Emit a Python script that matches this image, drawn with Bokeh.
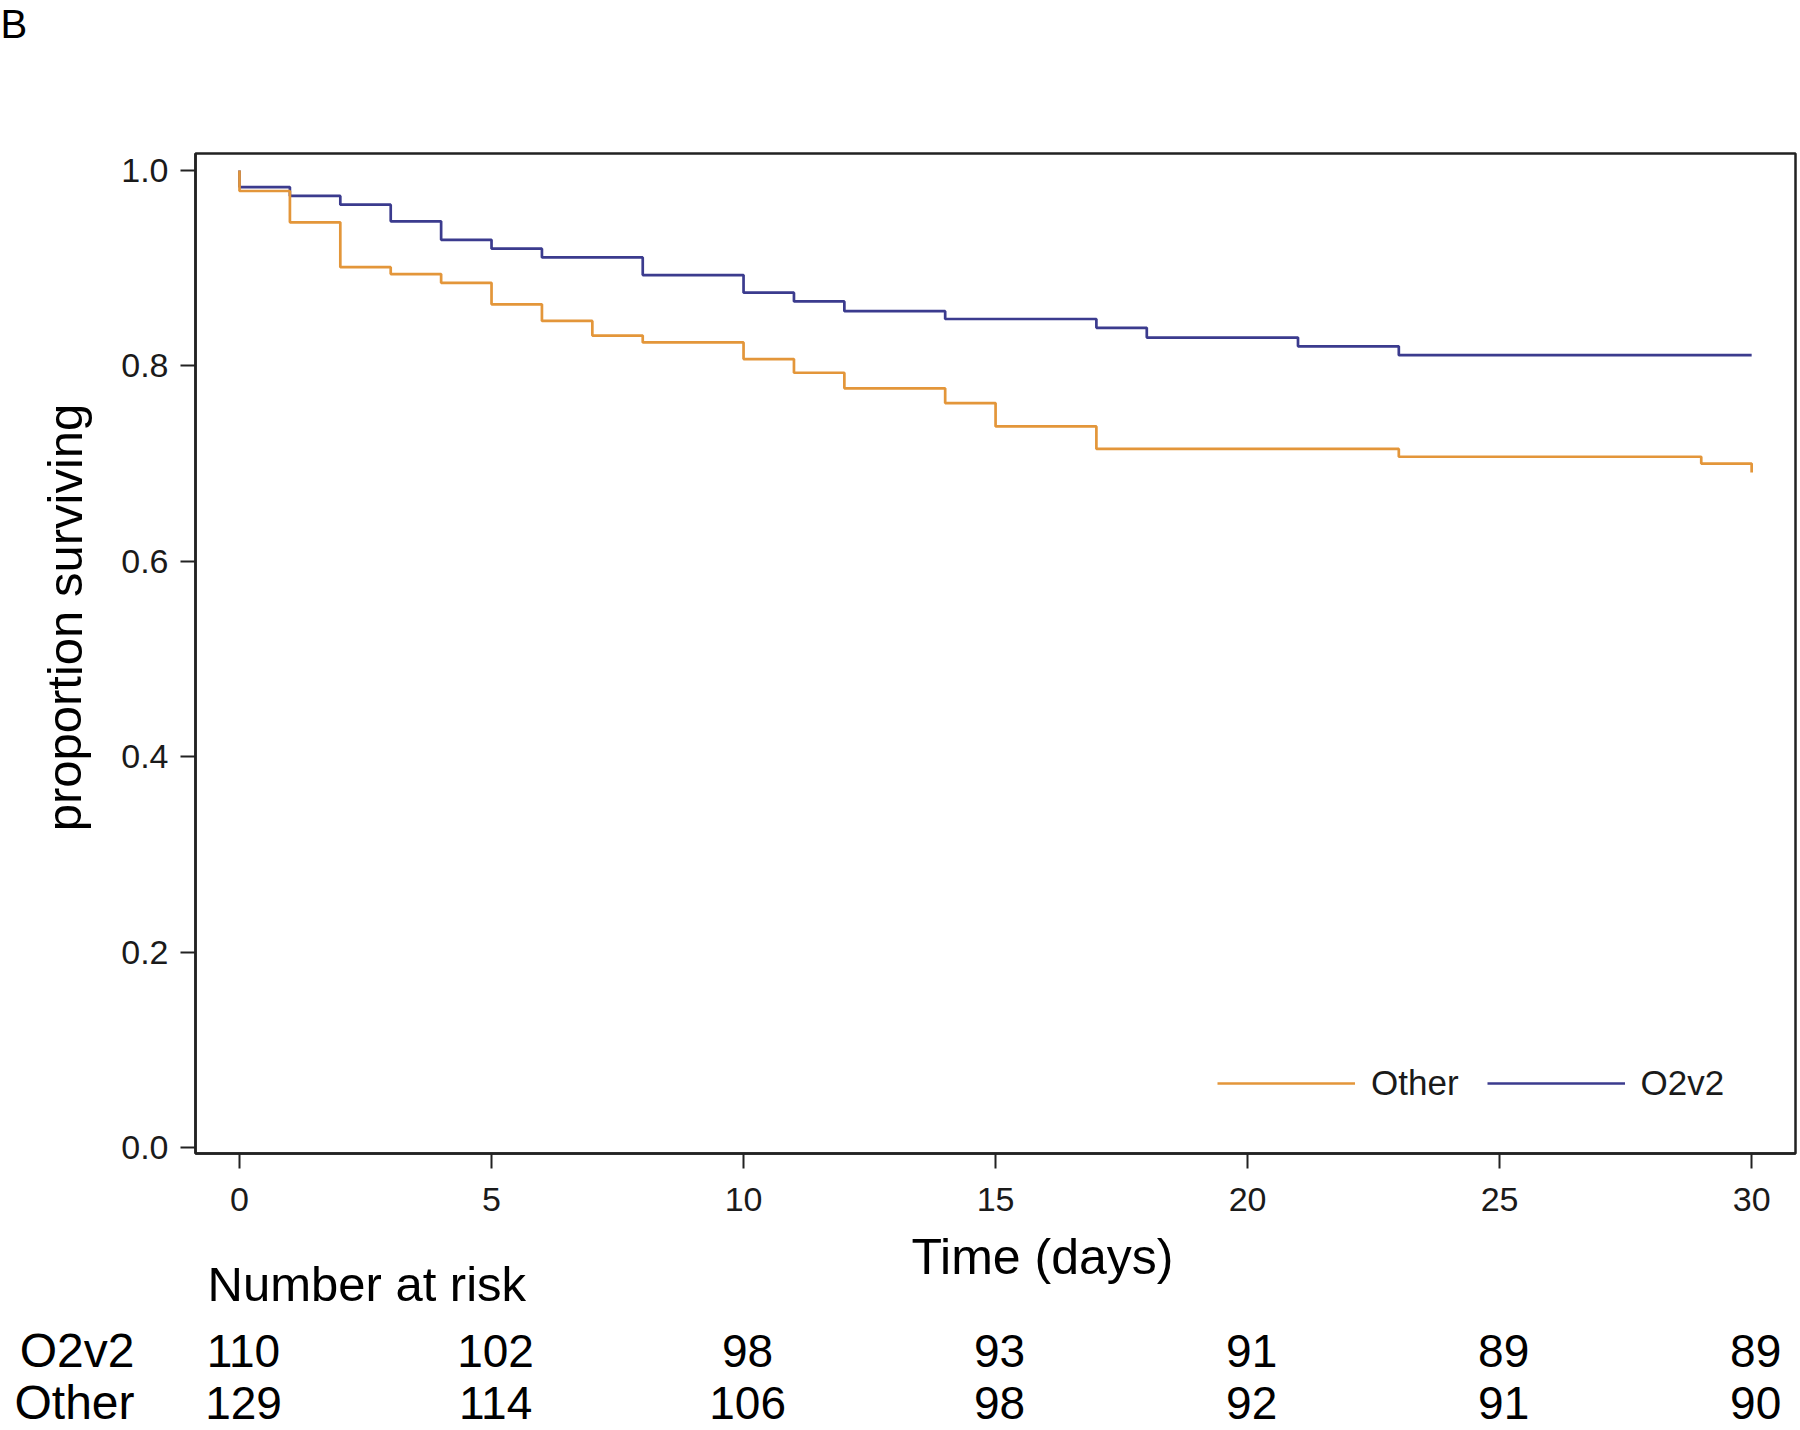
from bokeh.plotting import figure
from bokeh.layouts import row, column
from bokeh.models import (Legend, LegendItem, FixedTicker, PrintfTickFormatter, Range1d)
from bokeh.core.properties import value
from bokeh.embed import file_html
from bokeh.resources import INLINE

# ---------------- data ----------------
other_time = [0, 0, 1, 2, 3, 4, 5, 6, 7, 8, 10, 11, 12, 14, 15, 17, 23, 29, 30]
other_surv = [1.0, 0.979, 0.947, 0.901, 0.894, 0.885, 0.863, 0.846, 0.831, 0.824,
              0.807, 0.793, 0.777, 0.762, 0.738, 0.715, 0.707, 0.700, 0.691]

o2v2_time = [0, 0, 1, 2, 3, 4, 5, 6, 8, 10, 11, 12, 14, 17, 18, 21, 23, 30]
o2v2_surv = [1.0, 0.983, 0.974, 0.965, 0.948, 0.929, 0.920, 0.911, 0.893, 0.875,
             0.866, 0.856, 0.848, 0.839, 0.829, 0.820, 0.811, 0.811]

risk_times = [0, 5, 10, 15, 20, 25, 30]
risk_o2v2 = [110, 102, 98, 93, 91, 89, 89]
risk_other = [129, 114, 106, 98, 92, 91, 90]

x_ticks = [0, 5, 10, 15, 20, 25, 30]
y_ticks = [0.0, 0.2, 0.4, 0.6, 0.8, 1.0]

group_names = ["Other", "O2v2"]
colors = {"Other": "#E3963A", "O2v2": "#3B3B8E"}

FONT = "Liberation Sans"

# ---------------- layout geometry (page pixels) ----------------
W, H = 1800, 1430
STRIP_H = 60          # top strip holding the panel letter
SIDE_W = 100          # left strip holding the y title
TOP_H = 1227          # bottom edge of the middle row
FRAME_L, FRAME_R, FRAME_T, FRAME_B = 195, 1795, 153, 1153
X_MIN, X_MAX = -0.873, 30.87
Y_MIN, Y_MAX = -0.00614, 1.0174
px_per_day = (FRAME_R - FRAME_L) / (X_MAX - X_MIN)
MID_H = TOP_H - STRIP_H


def bare(fig):
    fig.grid.visible = False
    fig.outline_line_color = None
    fig.background_fill_color = "white"
    fig.border_fill_color = "white"
    return fig


# ---------------- top strip: panel letter ----------------
top = bare(figure(width=W, height=STRIP_H, output_backend="svg", toolbar_location=None,
                  x_range=Range1d(0, W), y_range=Range1d(STRIP_H, 0),
                  x_axis_type=None, y_axis_type=None, min_border=0))
top.text(x=[0], y=[23], text=["B"], text_font=value(FONT), text_font_size=value("40px"),
         text_align="left", text_baseline="middle", text_color="black")

# ---------------- main plot ----------------
p = figure(width=W - SIDE_W, height=MID_H, output_backend="svg", toolbar_location=None,
           x_range=Range1d(X_MIN, X_MAX), y_range=Range1d(Y_MIN, Y_MAX),
           min_border_left=FRAME_L - SIDE_W, min_border_right=W - FRAME_R,
           min_border_top=FRAME_T - STRIP_H, min_border_bottom=TOP_H - FRAME_B)
p.grid.visible = False
p.background_fill_color = "white"
p.border_fill_color = "white"
p.outline_line_color = "#222222"
p.outline_line_width = 2.5

r_o2v2 = p.step(o2v2_time, o2v2_surv, mode="after", line_color=colors["O2v2"], line_width=2.7)
r_other = p.step(other_time, other_surv, mode="after", line_color=colors["Other"], line_width=2.7)

for ax in (p.xaxis[0], p.yaxis[0]):
    ax.axis_line_color = "#222222"
    ax.axis_line_width = 2.5
    ax.major_tick_line_color = "#222222"
    ax.major_tick_line_width = 2
    ax.major_tick_out = 15
    ax.major_tick_in = 0
    ax.minor_tick_line_color = None
    ax.major_label_text_font = FONT
    ax.major_label_text_color = "#1a1a1a"

p.xaxis.ticker = FixedTicker(ticks=x_ticks)
p.xaxis.major_label_text_font_size = "34px"
p.xaxis.major_label_standoff = 19
p.yaxis.ticker = FixedTicker(ticks=y_ticks)
p.yaxis.formatter = PrintfTickFormatter(format="%.1f")
p.yaxis.major_label_text_font_size = "34px"
p.yaxis.major_label_standoff = 12

legend = Legend(items=[LegendItem(label=group_names[0], renderers=[r_other]),
                       LegendItem(label=group_names[1], renderers=[r_o2v2])],
                orientation="horizontal", location=(1022, 50),
                border_line_color=None, background_fill_alpha=0,
                glyph_width=138, glyph_height=40, label_height=40,
                label_standoff=16, spacing=28, padding=0, margin=0,
                label_text_font=FONT, label_text_font_size="35px",
                label_text_color="#1a1a1a")
p.add_layout(legend)

# ---------------- left strip: y title (frame matches the main plot's) ----------------
s = bare(figure(width=SIDE_W, height=MID_H, output_backend="svg", toolbar_location=None,
                x_range=Range1d(0, SIDE_W), y_range=Range1d(FRAME_B, FRAME_T),
                x_axis_type=None, y_axis_type=None, min_border_left=0,
                min_border_right=0, min_border_top=FRAME_T - STRIP_H,
                min_border_bottom=TOP_H - FRAME_B))
s.text(x=[64], y=[617], text=["proportion surviving"], angle=1.5707963,
       text_font=value(FONT), text_font_size=value("49px"),
       text_align="center", text_baseline="middle", text_color="black")

# ---------------- bottom strip: x title and number-at-risk table ----------------
t_start = X_MIN - FRAME_L / px_per_day
t_end = t_start + W / px_per_day
t = bare(figure(width=W, height=H - TOP_H, output_backend="svg", toolbar_location=None,
                x_range=Range1d(t_start, t_end), y_range=Range1d(H, TOP_H),
                x_axis_type=None, y_axis_type=None, min_border=0))

t.text(x=[15.93], y=[1256], text=["Time (days)"], text_font=value(FONT),
       text_font_size=value("50px"), text_align="center", text_baseline="middle",
       text_color="black")
t.text(x=[-0.635], y=[1283], text=["Number at risk"], text_font=value(FONT),
       text_font_size=value("49px"), text_align="left", text_baseline="middle",
       text_color="black")

row_y = {"O2v2": 1350, "Other": 1402}
for name, counts in (("O2v2", risk_o2v2), ("Other", risk_other)):
    t.text(x=[tt + 0.08 for tt in risk_times], y=[row_y[name]] * len(risk_times),
           text=[str(c) for c in counts], text_font=value(FONT),
           text_font_size=value("46px"), text_align="center", text_baseline="middle",
           text_color="black")
    t.text(x=[-2.083], y=[row_y[name]], text=[name], text_font=value(FONT),
           text_font_size=value("48px"), text_align="right", text_baseline="middle",
           text_color="black")

layout = column(top, row(s, p), t)
open("out.html", "w").write(file_html(layout, INLINE))
